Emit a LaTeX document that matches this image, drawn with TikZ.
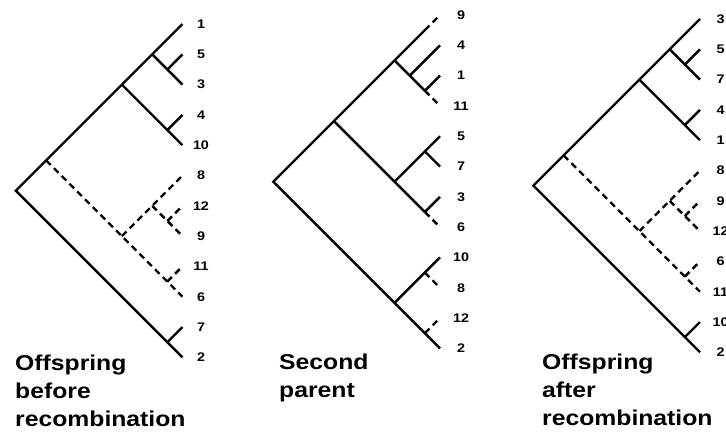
\documentclass[tikz,border=0pt]{standalone}
\usepackage{fontspec}
\newfontfamily\lblfont[FakeStretch=1.15]{Liberation Sans}
\begin{document}
\begin{tikzpicture}[x=1pt,y=-1pt,
  br/.style={line width=2.4pt},
  dbr/.style={line width=2.4pt, dash pattern=on 6.5pt off 4.5pt},
  lab/.style={font=\lblfont\bfseries\fontsize{12.5}{12.5}\selectfont, inner sep=0pt},
  ttl/.style={font=\lblfont\bfseries\fontsize{21.5}{28}\selectfont, align=left, inner sep=0pt, anchor=base west}]
\clip (0,0) rectangle (726,432);
\newcommand\tn[3]{\coordinate (#1) at ({\LX-\SP*(#3-#2)/2},{\LY+\SP*(#2+#3)/2});}
\newcommand\lf[3]{\tn{#1}{#2}{#2}\node[lab] (#1t) at ([xshift=\LO pt]#1) {#3};}
\def\SP{30.3}
% ---------- Tree 1 ----------
\def\LX{182.5}\def\LY{24}\def\LO{18.5}
\lf{aL1}{0}{1}\lf{aL5}{1}{5}\lf{aL3}{2}{3}\lf{aL4}{3}{4}\lf{aL10}{4}{10}\lf{aL8}{5}{8}
\lf{aL12}{6}{12}\lf{aL9}{7}{9}\lf{aL11}{8}{11}\lf{aL6}{9}{6}\lf{aL7}{10}{7}\lf{aL2}{11}{2}
\tn{aA}{1}{2}\tn{aB}{0}{2}\tn{aC}{3}{4}\tn{aD}{0}{4}\tn{aE}{6}{7}\tn{aF}{5}{7}
\tn{aG}{8}{9}\tn{aH}{5}{9}\tn{aI}{0}{9}\tn{aK}{10}{11}\tn{aR}{0}{11}
\draw[br] (aL1) -- (aB) -- (aD) -- (aI) -- (aR) -- (aK) -- (aL2);
\draw[br] (aD) -- (aC) -- (aL10);
\draw[br] (aC) -- (aL4);
\draw[br] (aB) -- (aA) -- (aL3);
\draw[br] (aA) -- (aL5);
\draw[br] (aK) -- (aL7);
\draw[dbr] (aI) -- (aH) -- (aG) -- (aL6);
\draw[dbr] (aH) -- (aF) -- (aL8);
\draw[dbr] (aF) -- (aE) -- (aL9);
\draw[dbr] (aE) -- (aL12);
\draw[dbr] (aG) -- (aL11);
% ---------- Tree 2 ----------
\def\LX{440}\def\LY{15}\def\LO{21}
\lf{bL9}{0}{9}\lf{bL4}{1}{4}\lf{bL1}{2}{1}\lf{bL11}{3}{11}\lf{bL5}{4}{5}\lf{bL7}{5}{7}
\lf{bL3}{6}{3}\lf{bL6}{7}{6}\lf{bL10}{8}{10}\lf{bL8}{9}{8}\lf{bL12}{10}{12}\lf{bL2}{11}{2}
\tn{bP}{2}{3}\tn{bQ}{1}{3}\tn{bR}{0}{3}\tn{bS}{4}{5}\tn{bT}{6}{7}\tn{bU}{4}{7}
\tn{bV}{0}{7}\tn{bW}{8}{9}\tn{bZ}{10}{11}\tn{bY}{8}{11}\tn{bRt}{0}{11}
\coordinate (bM) at ({\LX-\SP/2},{\LY+\SP/2});
\draw[br] (bM) -- (bR) -- (bV) -- (bRt) -- (bY) -- (bZ) -- (bL2);
\draw[br] (bR) -- (bQ) -- (bP);
\draw[br] (bQ) -- (bL4);
\draw[br] (bP) -- (bL1);
\draw[br] (bV) -- (bU) -- (bT);
\draw[br] (bT) -- (bL3);
\draw[br] (bU) -- (bS) -- (bL5);
\draw[br] (bS) -- (bL7);
\draw[br] (bY) -- (bW) -- (bL10);
\draw[dbr] (bM) -- (bL9);
\draw[dbr] (bP) -- (bL11);
\draw[dbr] (bT) -- (bL6);
\draw[dbr] (bW) -- (bL8);
\draw[dbr] (bZ) -- (bL12);
% ---------- Tree 3 ----------
\def\LX{700}\def\LY{19}\def\LO{20.5}
\lf{cL3}{0}{3}\lf{cL5}{1}{5}\lf{cL7}{2}{7}\lf{cL4}{3}{4}\lf{cL1}{4}{1}\lf{cL8}{5}{8}
\lf{cL9}{6}{9}\lf{cL12}{7}{12}\lf{cL6}{8}{6}\lf{cL11}{9}{11}\lf{cL10}{10}{10}\lf{cL2}{11}{2}
\tn{cA}{1}{2}\tn{cB}{0}{2}\tn{cC}{3}{4}\tn{cD}{0}{4}\tn{cE}{6}{7}\tn{cF}{5}{7}
\tn{cG}{8}{9}\tn{cH}{5}{9}\tn{cI}{0}{9}\tn{cK}{10}{11}\tn{cR}{0}{11}
\draw[br] (cL3) -- (cB) -- (cD) -- (cI) -- (cR) -- (cK) -- (cL2);
\draw[br] (cD) -- (cC) -- (cL1);
\draw[br] (cC) -- (cL4);
\draw[br] (cB) -- (cA) -- (cL7);
\draw[br] (cA) -- (cL5);
\draw[br] (cK) -- (cL10);
\draw[dbr] (cI) -- (cH) -- (cG) -- (cL11);
\draw[dbr] (cH) -- (cF) -- (cL8);
\draw[dbr] (cF) -- (cE) -- (cL12);
\draw[dbr] (cE) -- (cL9);
\draw[dbr] (cG) -- (cL6);
% ---------- Titles (anchor = baseline of last line) ----------
\node[ttl] (t1) at (15,426.7) {Offspring\\before\\recombination};
\node[ttl] (t2) at (279,397) {Second\\parent};
\node[ttl] (t3) at (542,425) {Offspring\\after\\recombination};
\end{tikzpicture}
\end{document}
